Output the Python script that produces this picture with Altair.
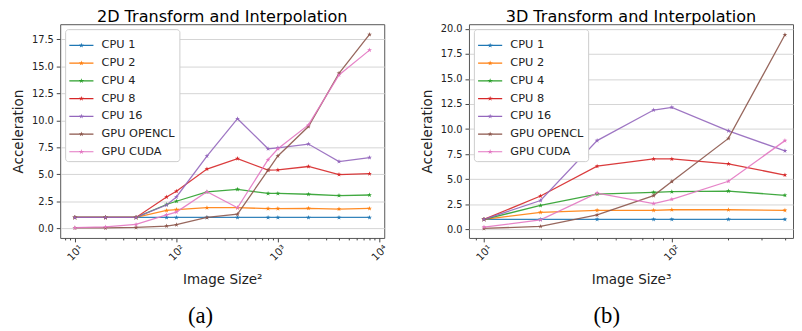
import math
import altair as alt
import pandas as pd

SERIES = ["CPU 1", "CPU 2", "CPU 4", "CPU 8", "CPU 16", "GPU OPENCL", "GPU CUDA"]
COLORS = ["#1f77b4", "#ff7f0e", "#2ca02c", "#d62728", "#9467bd", "#8c564b", "#e377c2"]

# ---- Panel (a): 2D ----
x_2d = [10, 20, 40, 80, 100, 200, 400, 800, 1000, 2000, 4000, 8000]
cpu1_2d = [1.0, 1.0, 1.0, 1.0, 1.0, 1.0, 1.0, 1.0, 1.0, 1.0, 1.0, 1.0]
cpu2_2d = [1.0, 1.0, 1.0, 1.65, 1.73, 1.9, 1.9, 1.82, 1.82, 1.85, 1.78, 1.83]
cpu4_2d = [1.0, 1.0, 1.0, 2.2, 2.5, 3.36, 3.6, 3.22, 3.22, 3.15, 3.03, 3.08]
cpu8_2d = [1.0, 1.0, 1.0, 2.9, 3.42, 5.48, 6.45, 5.38, 5.4, 5.72, 4.97, 5.05]
cpu16_2d = [1.0, 1.0, 1.0, 2.15, 2.9, 6.69, 10.15, 7.36, 7.45, 7.8, 6.18, 6.55]
opencl_2d = [0.03, 0.03, 0.07, 0.2, 0.33, 1.0, 1.3, 5.38, 6.7, 9.42, 14.35, 17.95]
cuda_2d = [0.05, 0.12, 0.35, 1.24, 1.5, 3.38, 1.9, 6.35, 7.36, 9.57, 14.2, 16.5]

# ---- Panel (b): 3D ----
x_3d = [10, 20, 40, 80, 100, 200, 400]
cpu1_3d = [1.0, 1.0, 1.0, 1.0, 1.0, 1.0, 1.0]
cpu2_3d = [1.0, 1.7, 1.9, 1.9, 1.96, 1.96, 1.9]
cpu4_3d = [1.0, 2.39, 3.52, 3.69, 3.76, 3.82, 3.4]
cpu8_3d = [1.0, 3.33, 6.3, 7.02, 7.02, 6.53, 5.42]
cpu16_3d = [1.0, 2.88, 8.85, 11.9, 12.17, 9.82, 7.83]
opencl_3d = [0.1, 0.3, 1.44, 3.37, 4.77, 9.07, 19.4]
cuda_3d = [0.23, 0.95, 3.62, 2.58, 3.0, 4.8, 8.85]

minor_2d = [8, 9, 10, 20, 30, 40, 50, 60, 70, 80, 90, 100, 200, 300, 400, 500, 600, 700, 800, 900,
            1000, 2000, 3000, 4000, 5000, 6000, 7000, 8000, 9000, 10000]
minor_3d = [9, 10, 20, 30, 40, 50, 60, 70, 80, 90, 100, 200, 300, 400]
yticks_2d = [0.0, 2.5, 5.0, 7.5, 10.0, 12.5, 15.0, 17.5]
yticks_3d = [0.0, 2.5, 5.0, 7.5, 10.0, 12.5, 15.0, 17.5, 20.0]

FONT = "DejaVu Sans"


def long_df(x, cols):
    rows = []
    for name, vals in zip(SERIES, cols):
        for xv, yv in zip(x, vals):
            rows.append({"x": xv, "y": yv, "series": name})
    return pd.DataFrame(rows)


def star_path(r_out, r_in):
    pts = []
    for k in range(10):
        r = r_out if k % 2 == 0 else r_in
        a = math.radians(-90 + 36 * k)
        pts.append(f"{r * math.cos(a):.4f},{r * math.sin(a):.4f}")
    return "M" + "L".join(pts) + "Z"


STAR = star_path(1.0, 0.382)
# legend glyph: thin filled bar (the line) plus a small star in the middle
LEGEND_SYMBOL = "M-1,-0.05L1,-0.05L1,0.05L-1,0.05Z" + star_path(0.22, 0.084)

LABEL_EXPR = ("datum.value == 10 ? '10\u00b9' : datum.value == 100 ? '10\u00b2' : "
              "datum.value == 1000 ? '10\u00b3' : datum.value == 10000 ? '10\u2074' : ''")
MAJOR_TEST = "datum.value == 10 || datum.value == 100 || datum.value == 1000 || datum.value == 10000"


def panel(df, xdom, xticks, ydom, yticks, title, xtitle, width, height):
    # same series->colour mapping, domain listed in reverse so the line scale
    # does not merge with (and disable) the point legend
    line_scale = alt.Scale(domain=SERIES[::-1], range=COLORS[::-1])
    pt_scale = alt.Scale(domain=SERIES, range=COLORS)
    xenc = alt.X("x:Q", scale=alt.Scale(type="log", domain=xdom, nice=False),
                 axis=alt.Axis(values=xticks, labelExpr=LABEL_EXPR, labelAngle=315,
                               labelAlign="center", labelBaseline="middle", labelPadding=11,
                               labelFontSize=10.5,
                               labelOverlap=False, labelFlush=False, grid=False,
                               tickSize={"condition": {"test": MAJOR_TEST, "value": 4}, "value": 2},
                               title=xtitle, titlePadding=10))
    yenc = alt.Y("y:Q", scale=alt.Scale(domain=ydom, nice=False, zero=False),
                 axis=alt.Axis(values=yticks, format=".1f", grid=True, tickSize=4,
                               labelPadding=3, title="Acceleration", titlePadding=6))
    legend = alt.Legend(title=None, orient="top-left", offset=5, padding=4,
                        symbolType=LEGEND_SYMBOL, symbolSize=600, symbolStrokeWidth=0,
                        symbolOpacity=1,
                        labelOffset=8, rowPadding=-3.1, strokeColor="#cccccc",
                        fillColor="white", cornerRadius=3, labelFont=FONT,
                        labelFontSize=11.5, labelColor="#222222")
    base = alt.Chart(df)
    lines = base.mark_line(strokeWidth=1.3, opacity=0.9).encode(
        x=xenc, y=yenc,
        color=alt.Color("series:N", scale=line_scale, legend=None),
    )
    pts = base.mark_point(shape=STAR, filled=True, size=26, opacity=1).encode(
        x=xenc, y=yenc,
        fill=alt.Fill("series:N", scale=pt_scale, legend=legend),
    )
    return alt.layer(lines, pts).properties(
        width=width, height=height,
        title=alt.TitleParams(title, frame="group", anchor="middle", offset=3, dy=4),
    )


df2 = long_df(x_2d, [cpu1_2d, cpu2_2d, cpu4_2d, cpu8_2d, cpu16_2d, opencl_2d, cuda_2d])
df3 = long_df(x_3d, [cpu1_3d, cpu2_3d, cpu4_3d, cpu8_3d, cpu16_3d, opencl_3d, cuda_3d])

pa = panel(df2, [10 ** 0.855, 10 ** 4.048], minor_2d, [-0.9, 18.9], yticks_2d,
           "2D Transform and Interpolation", "Image Size\u00b2", 329, 217)
pb = panel(df3, [10 ** 0.92, 10 ** 2.645], minor_3d, [-0.85, 20.45], yticks_3d,
           "3D Transform and Interpolation", "Image Size\u00b3", 329, 217)

cap = dict(orient="bottom", anchor="middle", font="Liberation Serif", fontSize=23,
           fontWeight="normal", color="black", offset=19)


def wrap(p, label):
    return (alt.vconcat(p)
            .resolve_scale(color="independent", fill="independent")
            .resolve_legend(fill="independent", color="independent")
            .properties(title=alt.TitleParams(label, **cap)))


wa = wrap(pa, "(a)")
wb = wrap(pb, "(b)")

chart = (
    alt.hconcat(wa, wb, spacing=30)
    .resolve_scale(color="independent", fill="independent")
    .resolve_legend(fill="independent", color="independent")
    .properties(padding={"left": 3, "top": -3, "right": 0, "bottom": 0})
    .configure(font=FONT)
    .configure_view(stroke="#555555", strokeWidth=1)
    .configure_axis(labelFont=FONT, labelFontSize=10, labelColor="#222222",
                    titleFont=FONT, titleFontSize=13.7, titleFontWeight="normal",
                    titleColor="#222222", tickColor="#444444", domain=False,
                    gridColor="#d4d4d4", gridWidth=1)
    .configure_title(font=FONT, fontSize=16.3, fontWeight="normal", color="black")
)

chart.save("out.html", embed_options={"renderer": "svg", "actions": False})
